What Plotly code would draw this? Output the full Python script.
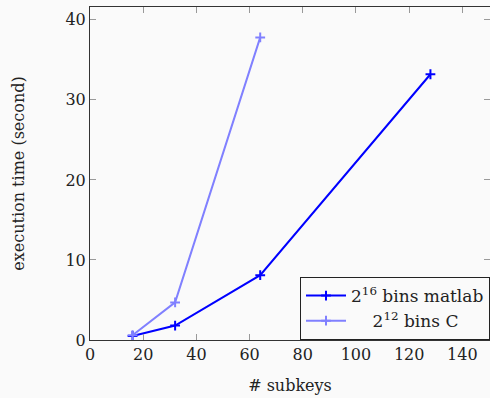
import plotly.graph_objects as go

subkeys_matlab = [16, 32, 64, 128]
time_matlab = [0.5, 1.8, 8.1, 33.2]
subkeys_c = [16, 32, 64]
time_c = [0.6, 4.7, 37.8]
x_ticks = [0, 20, 40, 60, 80, 100, 120, 140]
y_ticks = [0, 10, 20, 30, 40]

FONT = "DejaVu Serif"
BG = "#fafafa"
FS = 16

fig = go.Figure()
fig.add_trace(go.Scatter(
    x=subkeys_matlab, y=time_matlab, mode="lines+markers",
    name="2<sup>16</sup> bins matlab",
    line=dict(color="#0000ff", width=2),
    marker=dict(symbol="cross-thin", size=7, line=dict(color="#0000ff", width=2)),
))
fig.add_trace(go.Scatter(
    x=subkeys_c, y=time_c, mode="lines+markers",
    name="\u00a0\u00a0\u00a0\u00a02<sup>12</sup> bins C",
    line=dict(color="#8080ff", width=2),
    marker=dict(symbol="cross-thin", size=7, line=dict(color="#8080ff", width=2)),
))

axis_common = dict(
    showgrid=False, zeroline=False, showline=True, linecolor="#333", linewidth=1,
    mirror="ticks", ticks="inside", ticklen=6, tickcolor="#999", tickwidth=1,
    tickfont=dict(family=FONT, size=FS, color="#222"),
)
fig.update_xaxes(
    range=[0, 150.4], tickvals=x_ticks,
    title=dict(text="# subkeys", font=dict(family=FONT, size=FS, color="#222"), standoff=16),
    **axis_common,
)
fig.update_yaxes(
    range=[0, 41.6], tickvals=y_ticks,
    title=dict(text="execution time (second)", font=dict(family=FONT, size=FS, color="#222"), standoff=36),
    **axis_common,
)
fig.update_layout(
    width=490, height=398,
    margin=dict(l=90, r=0, t=7, b=58),
    paper_bgcolor=BG, plot_bgcolor=BG,
    font=dict(family=FONT, size=FS, color="#222"),
    showlegend=True,
    legend=dict(
        x=1, y=0, xanchor="right", yanchor="bottom",
        bgcolor=BG, bordercolor="#222", borderwidth=1,
        font=dict(family=FONT, size=17, color="#222"),
        tracegroupgap=0, itemwidth=40,
    ),
)
fig.write_html("out.html")
